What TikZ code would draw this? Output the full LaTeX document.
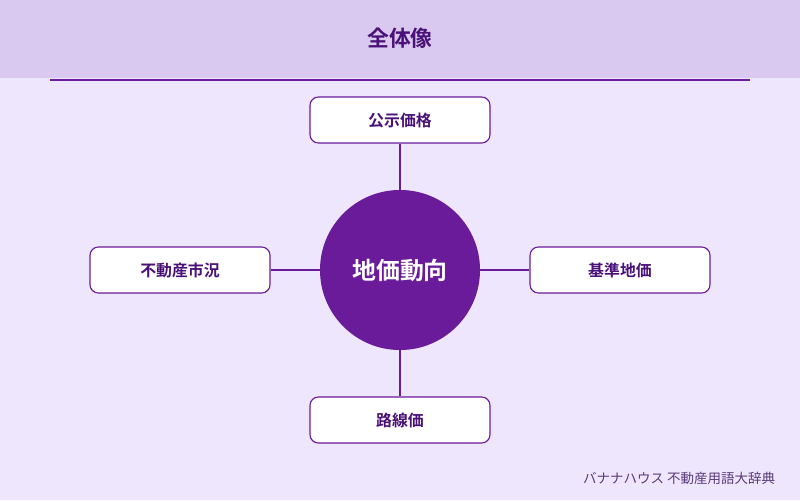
\documentclass[tikz,border=0pt]{standalone}
\usepackage{fontspec}
\newfontfamily\cjk{Noto Sans CJK JP}
\newfontfamily\cjkb{Noto Sans CJK JP Bold}
\usetikzlibrary{positioning}
\definecolor{bgPurple}{HTML}{EEE6FD}
\definecolor{headPurple}{HTML}{D9C9F0}
\definecolor{darkPurple}{HTML}{4A1278}
\definecolor{midPurple}{HTML}{6A1B9A}
\definecolor{footGray}{HTML}{5A3A7A}

\begin{document}
\begin{tikzpicture}[x=0.025cm,y=-0.025cm]
	\tikzset{termbox/.style = {draw=midPurple, thick, fill=white, rounded corners=6pt,
		minimum width=4.5cm, minimum height=1.15cm, font=\cjkb\fontsize{11.3}{13}\selectfont, text=darkPurple}}
	\tikzset{link/.style = {draw=midPurple, thick}}

	\fill[bgPurple] (0,0) rectangle (800,500);
	\fill[headPurple] (0,0) rectangle (800,78);
	\draw[midPurple, thick] (50,80) -- (750,80);
	\node[font=\cjkb\fontsize{15.5}{17}\selectfont, text=darkPurple] (title) at (400,38) {全体像};

	\node[circle, fill=midPurple, minimum size=4cm, inner sep=0pt,
		font=\cjkb\fontsize{17}{20}\selectfont, text=white] (center) at (400,270) {地価動向};

	\node[termbox] (top) at (400,120) {公示価格};
	\node[termbox] (left) at (180,270) {不動産市況};
	\node[termbox] (right) at (620,270) {基準地価};
	\node[termbox] (bottom) at (400,420) {路線価};

	\draw[link] (top) -- (center);
	\draw[link] (left) -- (center);
	\draw[link] (right) -- (center);
	\draw[link] (bottom) -- (center);

	\node[anchor=east, font=\cjk\fontsize{9.6}{11}\selectfont, text=footGray] (foot) at (780,478) {バナナハウス 不動産用語大辞典};
\end{tikzpicture}
\end{document}
